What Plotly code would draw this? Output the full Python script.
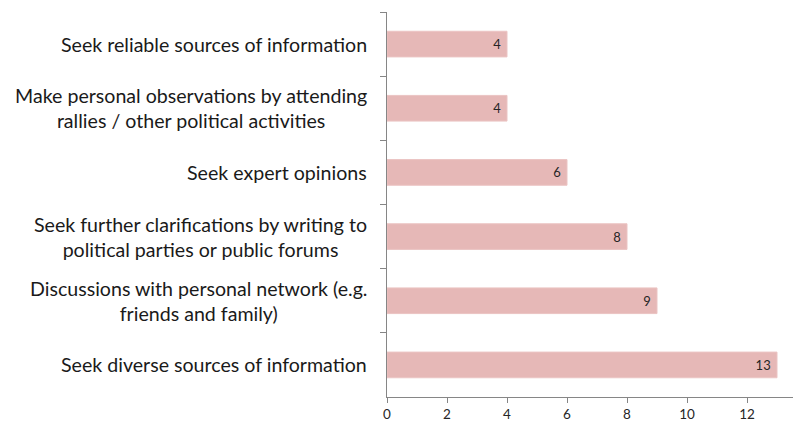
import plotly.graph_objects as go

categories = [
    "Seek reliable sources of information",
    "Make personal observations by attending<br>rallies / other political activities",
    "Seek expert opinions",
    "Seek further clarifications by writing to<br>political parties or public forums",
    "Discussions with personal network (e.g.<br>friends and family)",
    "Seek diverse sources of information",
]
values = [4, 4, 6, 8, 9, 13]
x_ticks = [0, 2, 4, 6, 8, 10, 12, 14]

FONT = "Lato, 'Open Sans', sans-serif"

fig = go.Figure(go.Bar(
    x=values,
    y=categories,
    orientation="h",
    marker=dict(color="#E6B8B7", line=dict(color="#EBC4C3", width=1)),
    text=[f"{v}\u00a0" for v in values],
    textposition="inside",
    insidetextanchor="end",
    textfont=dict(family=FONT, size=13, color="#262626"),
    width=0.4,
    hoverinfo="skip",
))

for c in categories:
    fig.add_annotation(
        x=0, xref="paper", y=c, yref="y",
        text=c, showarrow=False, xanchor="right", yanchor="middle",
        align="center", xshift=-18,
        font=dict(family=FONT, size=19.6, color="#1a1a1a"),
    )

fig.update_layout(
    width=793, height=418,
    margin=dict(l=379, r=0, t=4, b=29),
    paper_bgcolor="white", plot_bgcolor="white",
    showlegend=False,
    xaxis=dict(
        range=[0, 13.8], tickvals=x_ticks, showgrid=False, zeroline=False,
        showline=True, linecolor="#868686", linewidth=1,
        ticks="outside", ticklen=5, tickcolor="#868686",
        tickfont=dict(family=FONT, size=13.5, color="#262626"),
    ),
    yaxis=dict(
        categoryorder="array", categoryarray=categories, autorange="reversed",
        showticklabels=False, showgrid=False, zeroline=False,
        showline=True, linecolor="#868686", linewidth=1,
        ticks="outside", ticklen=6, tickcolor="#868686", tickson="boundaries",
    ),
)

fig.write_html("out.html")
